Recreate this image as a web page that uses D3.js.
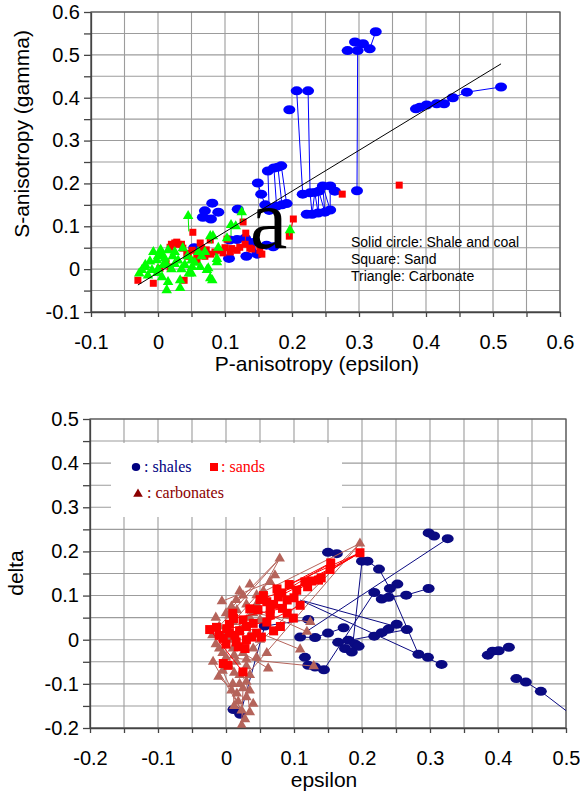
<!DOCTYPE html>
<html><head><meta charset="utf-8">
<script src="https://cdn.jsdelivr.net/npm/d3@7"></script>
<style>html,body{margin:0;padding:0;background:#fff}svg{display:block}</style>
</head><body>
<svg id="chart" width="580" height="795"></svg>
<script>
// ================= DATA : top panel (gamma vs epsilon) =================
const topTickValues = [-0.1,-0.05,0,0.05,0.1,0.15,0.2,0.25,0.3,0.35,0.4,0.45,0.5,0.55,0.6];
const topTickLabels = [-0.1,0,0.1,0.2,0.3,0.4,0.5,0.6];
const topXTitle = "P-anisotropy (epsilon)";
const topYTitle = "S-anisotropy (gamma)";
const topNotes = ["Solid circle: Shale and coal","Square: Sand","Triangle: Carbonate"];
const topLetter = "a";

const topShalePoints = [
 [0.297,0.183],[0.298,0.510],[0.283,0.510],[0.294,0.530],[0.306,0.526],[0.316,0.514],[0.325,0.554],
 [0.385,0.374],[0.391,0.378],[0.401,0.383],[0.416,0.386],[0.427,0.386],[0.440,0.400],[0.461,0.413],[0.512,0.425],
 [0.207,0.416],[0.224,0.416],[0.196,0.372],
 [0.216,0.175],[0.227,0.178],[0.234,0.179],[0.240,0.182],[0.246,0.194],[0.257,0.194],[0.264,0.182],
 [0.222,0.128],[0.230,0.128],[0.239,0.131],[0.249,0.133],[0.257,0.138],
 [0.149,0.201],[0.154,0.175],[0.160,0.150],[0.164,0.229],[0.173,0.236],[0.179,0.238],[0.184,0.241],
 [0.166,0.137],[0.177,0.147],[0.185,0.150],[0.192,0.153],
 [0.081,0.154],[0.070,0.136],[0.090,0.133],[0.079,0.117],[0.067,0.121],[0.119,0.140],
 [0.107,0.068],[0.118,0.069],[0.130,0.072],[0.142,0.062],[0.162,0.056],[0.172,0.052],
 [0.054,0.050],[0.106,0.025],[0.132,0.030],[0.148,0.035]
];
const topShaleLinks = [
 [[0.297,0.183],[0.298,0.510]],
 [[0.316,0.514],[0.325,0.554]],
 [[0.385,0.374],[0.391,0.378],[0.401,0.383],[0.416,0.386],[0.427,0.386],[0.440,0.400],[0.461,0.413],[0.512,0.425]],
 [[0.207,0.416],[0.216,0.175]],
 [[0.224,0.416],[0.227,0.178]],
 [[0.227,0.178],[0.230,0.128],[0.234,0.179],[0.239,0.131],[0.240,0.182],[0.249,0.133],[0.246,0.194],[0.257,0.138],[0.257,0.194]],
 [[0.149,0.201],[0.154,0.175],[0.160,0.150]],
 [[0.164,0.229],[0.166,0.137]],
 [[0.173,0.236],[0.177,0.147]],
 [[0.179,0.238],[0.185,0.150]],
 [[0.184,0.241],[0.192,0.153]],
 [[0.148,0.035],[0.142,0.062]]
];
const topSandPoints = [
 [0.360,0.196],[0.275,0.175],[0.202,0.117],[0.196,0.077],[0.155,0.035],[0.140,0.047],[0.152,0.044],
 [0.131,0.084],[0.127,0.110],[0.137,0.049],[0.130,0.058],[0.122,0.051],[0.118,0.044],[0.103,0.070],
 [0.110,0.048],[0.100,0.050],[0.108,0.040],[0.097,0.038],[0.093,0.044],[0.085,0.040],[0.079,0.035],
 [0.072,0.045],[0.065,0.050],[0.070,0.030],[0.078,0.068],[0.063,0.061],[0.052,0.086],[0.051,0.044],
 [0.058,0.028],[0.058,0.021],[0.045,0.030],[0.043,0.037],[0.037,0.049],[0.035,0.058],[0.030,0.058],
 [0.028,0.063],[0.025,0.061],[0.020,0.058],[0.018,0.051],[0.012,0.015],[0.018,0.005],[0.003,0.002],
 [-0.007,-0.033],[-0.030,-0.026],[0.039,-0.026]
];
const topSandLinks = [
 [[0.202,0.117],[0.196,0.077]],
 [[0.155,0.035],[0.152,0.044]],
 [[0.131,0.084],[0.130,0.058]]
];
const topCarbPoints = [
 [0.045,0.124],[0.125,0.133],[0.116,0.100],[0.109,0.103],[0.197,0.091],[0.103,0.072],[0.082,0.077],[0.078,0.077],
 [0.070,0.040],[0.088,0.016],[0.088,0.024],[-0.007,0.040],[0.015,0.044],[0.037,0.049],[0.025,0.040],
 [0.013,0.010],[0.013,-0.049],[0.033,-0.044],[0.033,-0.026],[0.081,-0.026],[0.078,-0.021],[0.073,-0.002],
 [0.075,0.002],[0.063,0.005],[0.051,0.005],[-0.009,-0.002],[-0.024,-0.002],[-0.019,0.010],[-0.002,0.021],
 [0.008,0.010],[-0.001,-0.009],[0.006,-0.019],[0.044,0.030],[0.030,0.020],[0.020,0.000],[0.040,0.010],
 [0.055,0.015],[0.065,0.030],[0.000,0.030],[0.010,0.025],[0.022,0.030],[-0.015,-0.015],[0.025,0.012],
 [-0.012,0.018],[0.004,0.045],[0.046,-0.010],
 [-0.028,-0.010],[-0.020,0.005],[0.000,0.000],[0.005,0.035],[0.050,0.020],[0.060,0.040],
 [0.090,0.050],[0.035,0.000],[0.015,-0.030],[0.050,-0.010]
];
const topCarbLinks = [
 [[0.045,0.124],[0.046,0.088]],
 [[0.125,0.133],[0.125,0.110]],
 [[0.109,0.103],[0.109,0.078]],
 [[0.197,0.091],[0.196,0.077]],
 [[0.033,-0.044],[0.033,-0.020]],
 [[0.013,-0.049],[0.014,-0.020]],
 [[0.078,-0.021],[0.078,0.003]],
 [[0.088,0.016],[0.086,0.038]],
 [[0.078,0.077],[0.080,0.060]]
];
const topFitLine = [[-0.030,-0.037],[0.512,0.479]];

// ================= DATA : bottom panel (delta vs epsilon) =================
const botTickValuesX = [-0.2,-0.15,-0.1,-0.05,0,0.05,0.1,0.15,0.2,0.25,0.3,0.35,0.4,0.45,0.5];
const botTickValuesY = [-0.2,-0.15,-0.1,-0.05,0,0.05,0.1,0.15,0.2,0.25,0.3,0.35,0.4,0.45,0.5];
const botTickLabels = [-0.2,-0.1,0,0.1,0.2,0.3,0.4,0.5];
const botXTitle = "epsilon";
const botYTitle = "delta";
const botLegend = [": shales",": sands",": carbonates"];

const botShalePoints = [
 [0.298,0.242],[0.306,0.235],[0.326,0.229],
 [0.150,0.198],[0.163,0.195],[0.200,0.178],[0.208,0.178],[0.225,0.160],
 [0.252,0.126],[0.241,0.116],[0.218,0.107],[0.229,0.092],[0.239,0.096],[0.265,0.101],[0.298,0.116],
 [0.121,0.046],[0.109,0.006],[0.131,0.005],[0.150,0.015],[0.173,0.027],
 [0.218,0.008],[0.229,0.016],[0.239,0.024],[0.251,0.035],[0.266,0.023],
 [0.165,-0.006],[0.180,-0.001],[0.175,-0.020],[0.190,-0.010],[0.195,-0.015],[0.185,-0.028],
 [0.283,-0.033],[0.297,-0.040],[0.317,-0.056],
 [0.116,-0.040],[0.121,-0.058],[0.131,-0.062],[0.144,-0.068],
 [0.385,-0.035],[0.392,-0.026],[0.401,-0.025],[0.416,-0.017],
 [0.427,-0.088],[0.441,-0.096],[0.463,-0.117],
 [0.011,-0.158],[0.021,-0.169],[0.057,0.031]
];
const botShaleLinks = [
 [[0.011,-0.158],[0.021,-0.169],[0.057,0.031],[0.121,0.046]],
 [[0.105,0.005],[0.326,0.229]],
 [[0.144,-0.068],[0.218,0.107]],
 [[0.200,0.178],[0.187,-0.003]],
 [[0.208,0.178],[0.225,0.160],[0.241,0.116],[0.283,-0.033],[0.297,-0.040]],
 [[0.109,0.090],[0.283,-0.033],[0.317,-0.056]],
 [[0.114,0.088],[0.266,0.023]],
 [[0.109,0.006],[0.131,0.005],[0.150,0.015],[0.173,0.027]],
 [[0.165,-0.006],[0.266,0.023]],
 [[0.218,0.107],[0.239,0.096],[0.265,0.101],[0.298,0.116]],
 [[0.218,0.008],[0.229,0.016],[0.239,0.024],[0.251,0.035]],
 [[0.116,-0.040],[0.121,-0.058],[0.131,-0.062],[0.144,-0.068]],
 [[0.427,-0.088],[0.441,-0.096],[0.463,-0.117],[0.530,-0.196]]
];
const botSandPoints = [
 [0.197,0.197],[0.154,0.174],[0.153,0.159],[0.136,0.135],[0.126,0.133],[0.116,0.131],[0.093,0.125],
 [0.104,0.112],[0.082,0.106],[0.077,0.097],[0.050,0.091],[0.060,0.086],[0.109,0.078],[0.083,0.071],
 [0.047,0.068],[0.099,0.049],[0.065,0.056],[0.011,0.048],[0.040,0.037],[-0.024,0.023],[-0.014,0.028],
 [0.001,0.025],[0.013,0.010],[-0.004,0.003],[0.038,0.006],[0.052,0.006],[0.070,0.020],[0.018,-0.016],
 [0.028,-0.020],[-0.004,-0.054],[0.003,-0.058],[0.025,-0.073],[0.060,0.040],[0.030,0.030],[0.020,0.020],
 [0.090,0.090],[0.075,0.115],[0.100,0.095],[0.070,0.080],[0.025,0.045],[0.005,0.015],[0.045,0.015],
 [0.080,0.030],[0.015,-0.005],[0.090,0.060],
 [0.005,0.035],[-0.010,0.010],[0.030,0.000],[0.010,0.060],[0.035,0.070],[0.055,0.100],
 [0.120,0.120],[0.140,0.140],[0.065,0.070],[0.000,-0.010]
];
const botSandLinks = [
 [[0.116,0.131],[0.197,0.197]],
 [[0.126,0.133],[0.197,0.197]],
 [[0.104,0.112],[0.197,0.197]],
 [[0.093,0.125],[0.197,0.197]],
 [[0.082,0.106],[0.154,0.174]],
 [[0.093,0.125],[0.154,0.174]],
 [[0.077,0.097],[0.153,0.159]],
 [[0.050,0.091],[0.126,0.133]],
 [[-0.024,0.023],[0.025,-0.073]],
 [[0.001,0.025],[0.060,0.040],[0.109,0.078]],
 [[0.011,0.048],[0.083,0.071]]
];
const botCarbPoints = [
 [0.197,0.218],[0.079,0.184],[0.072,0.146],[0.065,0.131],[0.055,0.110],[0.045,0.101],[-0.006,0.087],
 [0.016,0.067],[0.008,0.075],[0.030,0.080],[0.040,0.060],[0.035,0.050],[0.050,0.045],[0.000,0.060],
 [0.010,0.040],[-0.010,0.030],[0.020,0.020],[0.005,0.000],[0.035,0.010],[-0.015,-0.010],[0.010,-0.020],
 [0.025,-0.030],[-0.005,-0.030],[0.000,-0.040],[0.040,-0.020],[0.045,-0.040],[0.015,-0.050],[-0.019,-0.050],
 [0.030,-0.060],[0.020,-0.080],[-0.011,-0.084],[0.030,-0.095],[0.010,-0.100],[0.025,-0.110],[0.016,-0.122],
 [0.030,-0.130],[0.018,-0.140],[0.023,-0.160],[0.035,-0.164],[0.023,-0.194],
 [0.109,-0.022],[0.119,0.018],[0.124,0.040],[0.129,-0.060],[0.062,-0.065],
 [-0.015,0.050],[-0.020,0.010],[0.005,0.055],[0.015,0.090],[0.025,0.100],[0.000,0.020],
 [-0.010,-0.020],[0.012,-0.035],[0.030,-0.045],[0.005,-0.060],[-0.005,-0.070],[0.012,-0.075],
 [0.035,-0.080],[0.020,-0.100],[0.008,-0.115],[0.035,-0.115],[0.012,-0.150],[0.040,-0.145],
 [0.028,-0.180],[0.050,0.000],[0.060,-0.030],[0.045,0.080],[0.020,0.110],[0.035,0.125]
];
const botCarbLinks = [
 [[0.197,0.218],[0.025,-0.090]],
 [[0.197,0.218],[0.040,-0.020]],
 [[0.197,0.218],[0.045,0.101]],
 [[0.079,0.184],[0.000,0.060]],
 [[0.079,0.184],[0.020,0.020]],
 [[0.079,0.184],[-0.010,0.030]],
 [[0.072,0.146],[0.010,0.040]],
 [[0.065,0.131],[-0.006,0.087]],
 [[0.055,0.110],[0.005,0.000]],
 [[0.129,-0.060],[0.000,-0.040]],
 [[0.109,-0.022],[0.010,0.040]],
 [[0.119,0.018],[0.030,0.080]],
 [[0.124,0.040],[0.040,0.060]],
 [[0.062,-0.065],[0.025,-0.030]],
 [[-0.019,-0.050],[0.023,-0.160]],
 [[0.023,-0.194],[0.025,-0.110]],
 [[0.035,-0.164],[0.030,-0.095]],
 [[0.016,-0.122],[-0.011,-0.084]],
 [[-0.005,-0.070],[0.028,-0.180]],
 [[0.012,-0.150],[0.010,-0.100]]
];

// ================= DRAWING =================
const svg = d3.select("#chart");
const SANS = "'Liberation Sans', Arial, sans-serif";
const SERIF = "'Liberation Serif', 'Times New Roman', serif";
const GRID = "#9c9c9c", AXIS = "#444";

function isLabel(list, d){ return list.some(v => Math.abs(v - d) < 1e-9); }
function fmt(list){ return d => isLabel(list, d) ? String(+d.toFixed(2)) : ""; }

function basePanel(id, xs, ys, gx, gy){
  const [x0,x1] = xs.range(), [yb,yt] = ys.range();
  const g = svg.append("g");
  svg.append("clipPath").attr("id", id).append("rect")
    .attr("x", x0).attr("y", yt).attr("width", x1-x0).attr("height", yb-yt);
  g.append("g").selectAll("line").data(gx).join("line")
    .attr("x1", d=>xs(d)).attr("x2", d=>xs(d)).attr("y1", yt).attr("y2", yb)
    .attr("stroke", GRID).attr("stroke-width", 1.1);
  g.append("g").selectAll("line").data(gy).join("line")
    .attr("y1", d=>ys(d)).attr("y2", d=>ys(d)).attr("x1", x0).attr("x2", x1)
    .attr("stroke", GRID).attr("stroke-width", 1.1);
  g.append("rect").attr("x", x0).attr("y", yt).attr("width", x1-x0).attr("height", yb-yt)
    .attr("fill","none").attr("stroke","#555").attr("stroke-width",1.2);
  return {g, x0, x1, yb, yt};
}

function drawAxes(p, xs, ys, gx, gy, labels, xTitle, yTitle, xTitleX, yTitleX, yTitleY){
  const ax = p.g.append("g").attr("transform", `translate(0,${p.yb})`)
    .call(d3.axisBottom(xs).tickValues(gx).tickSize(5).tickSizeOuter(0).tickPadding(18).tickFormat(fmt(labels)));
  const ay = p.g.append("g").attr("transform", `translate(${p.x0},0)`)
    .call(d3.axisLeft(ys).tickValues(gy).tickSize(7).tickSizeOuter(0).tickPadding(4).tickFormat(fmt(labels)));
  [ax, ay].forEach(a => {
    a.selectAll("path,line").attr("stroke", AXIS).attr("stroke-width", 1.3);
    a.selectAll("text").attr("font-family", SANS).attr("font-size", 20).attr("fill", "#000");
  });
  p.g.append("text").attr("x", xTitleX).attr("y", p.yb + 59).attr("text-anchor","middle")
    .attr("font-family", SANS).attr("font-size", 21).text(xTitle);
  p.g.append("text").attr("transform", `translate(${yTitleX},${yTitleY}) rotate(-90)`)
    .attr("text-anchor","middle").attr("dy","0.35em")
    .attr("font-family", SANS).attr("font-size", 21).text(yTitle);
}

function drawLinks(g, clip, xs, ys, links, color, w){
  const line = d3.line().x(d=>xs(d[0])).y(d=>ys(d[1]));
  g.append("g").attr("clip-path", `url(#${clip})`).selectAll("path").data(links).join("path")
    .attr("d", line).attr("fill","none").attr("stroke", color).attr("stroke-width", w);
}
function drawEllipses(g, xs, ys, pts, color, rx, ry){
  g.append("g").selectAll("ellipse").data(pts).join("ellipse")
    .attr("cx", d=>xs(d[0])).attr("cy", d=>ys(d[1])).attr("rx", rx).attr("ry", ry).attr("fill", color);
}
function drawSquares(g, xs, ys, pts, color, s){
  g.append("g").selectAll("rect").data(pts).join("rect")
    .attr("x", d=>xs(d[0])-s/2).attr("y", d=>ys(d[1])-s/2).attr("width", s).attr("height", s).attr("fill", color);
}
function drawTriangles(g, xs, ys, pts, color, size){
  const sym = d3.symbol(d3.symbolTriangle, size);
  g.append("g").selectAll("path").data(pts).join("path")
    .attr("transform", d=>`translate(${xs(d[0])},${ys(d[1])})`).attr("d", sym).attr("fill", color);
}

// ---------- top panel ----------
const xT = d3.scaleLinear().domain([-0.1,0.6]).range([91,560]);
const yT = d3.scaleLinear().domain([-0.1,0.6]).range([312,12]);
const pT = basePanel("clipTop", xT, yT, topTickValues, topTickValues);
drawLinks(pT.g, "clipTop", xT, yT, topShaleLinks, "#0000ff", 1);
drawEllipses(pT.g, xT, yT, topShalePoints, "#0000ff", 6, 4.5);
drawLinks(pT.g, "clipTop", xT, yT, topSandLinks, "#ff0000", 1);
drawSquares(pT.g, xT, yT, topSandPoints, "#ff0000", 7);
drawLinks(pT.g, "clipTop", xT, yT, topCarbLinks, "#00ee00", 1);
drawTriangles(pT.g, xT, yT, topCarbPoints, "#00ff00", 48);
drawLinks(pT.g, "clipTop", xT, yT, [topFitLine], "#000", 1);
drawAxes(pT, xT, yT, topTickValues, topTickValues, topTickLabels, topXTitle, topYTitle, 317, 22, 134);
pT.g.append("g").selectAll("text").data(topNotes).join("text")
  .attr("x", 351).attr("y", (d,i)=>247 + i*17)
  .attr("font-family", SANS).attr("font-size", 14).attr("fill","#000").text(d=>d);
pT.g.append("text").attr("x", 250).attr("y", 248).attr("font-family", SERIF)
  .attr("font-size", 84).attr("fill","#000").text(topLetter);

// ---------- bottom panel ----------
const xB = d3.scaleLinear().domain([-0.2,0.5]).range([90,566]);
const yB = d3.scaleLinear().domain([-0.2,0.5]).range([728,419]);
const pB = basePanel("clipBot", xB, yB, botTickValuesX, botTickValuesY);
pB.g.append("rect").attr("x",111).attr("y",443).attr("width",231).attr("height",74).attr("fill","#fff");
const NAVY = "#0a0a82", ROSY = "#b5645b";
drawLinks(pB.g, "clipBot", xB, yB, botShaleLinks, NAVY, 1);
drawEllipses(pB.g, xB, yB, botShalePoints, NAVY, 6, 4.5);
drawLinks(pB.g, "clipBot", xB, yB, botCarbLinks, ROSY, 1);
drawTriangles(pB.g, xB, yB, botCarbPoints, ROSY, 48);
drawLinks(pB.g, "clipBot", xB, yB, botSandLinks, "#ff0000", 1);
drawSquares(pB.g, xB, yB, botSandPoints, "#ff0000", 9);
drawAxes(pB, xB, yB, botTickValuesX, botTickValuesY, botTickLabels, botXTitle, botYTitle, 324, 16, 573);

const lg = pB.g.append("g");
lg.append("ellipse").attr("cx",136).attr("cy",467).attr("rx",4.2).attr("ry",4).attr("fill","#000080");
lg.append("text").attr("x",144).attr("y",472).attr("font-family",SERIF).attr("font-size",16)
  .attr("fill","#000080").text(botLegend[0]);
lg.append("rect").attr("x",210).attr("y",463).attr("width",8).attr("height",8).attr("fill","#ff0000");
lg.append("text").attr("x",221).attr("y",472).attr("font-family",SERIF).attr("font-size",16)
  .attr("fill","#ff0000").text(botLegend[1]);
lg.append("path").attr("transform","translate(138,494)").attr("d", d3.symbol(d3.symbolTriangle, 40))
  .attr("fill","#8b0000");
lg.append("text").attr("x",147).attr("y",498).attr("font-family",SERIF).attr("font-size",16)
  .attr("fill","#8b0000").text(botLegend[2]);
</script>
</body></html>
